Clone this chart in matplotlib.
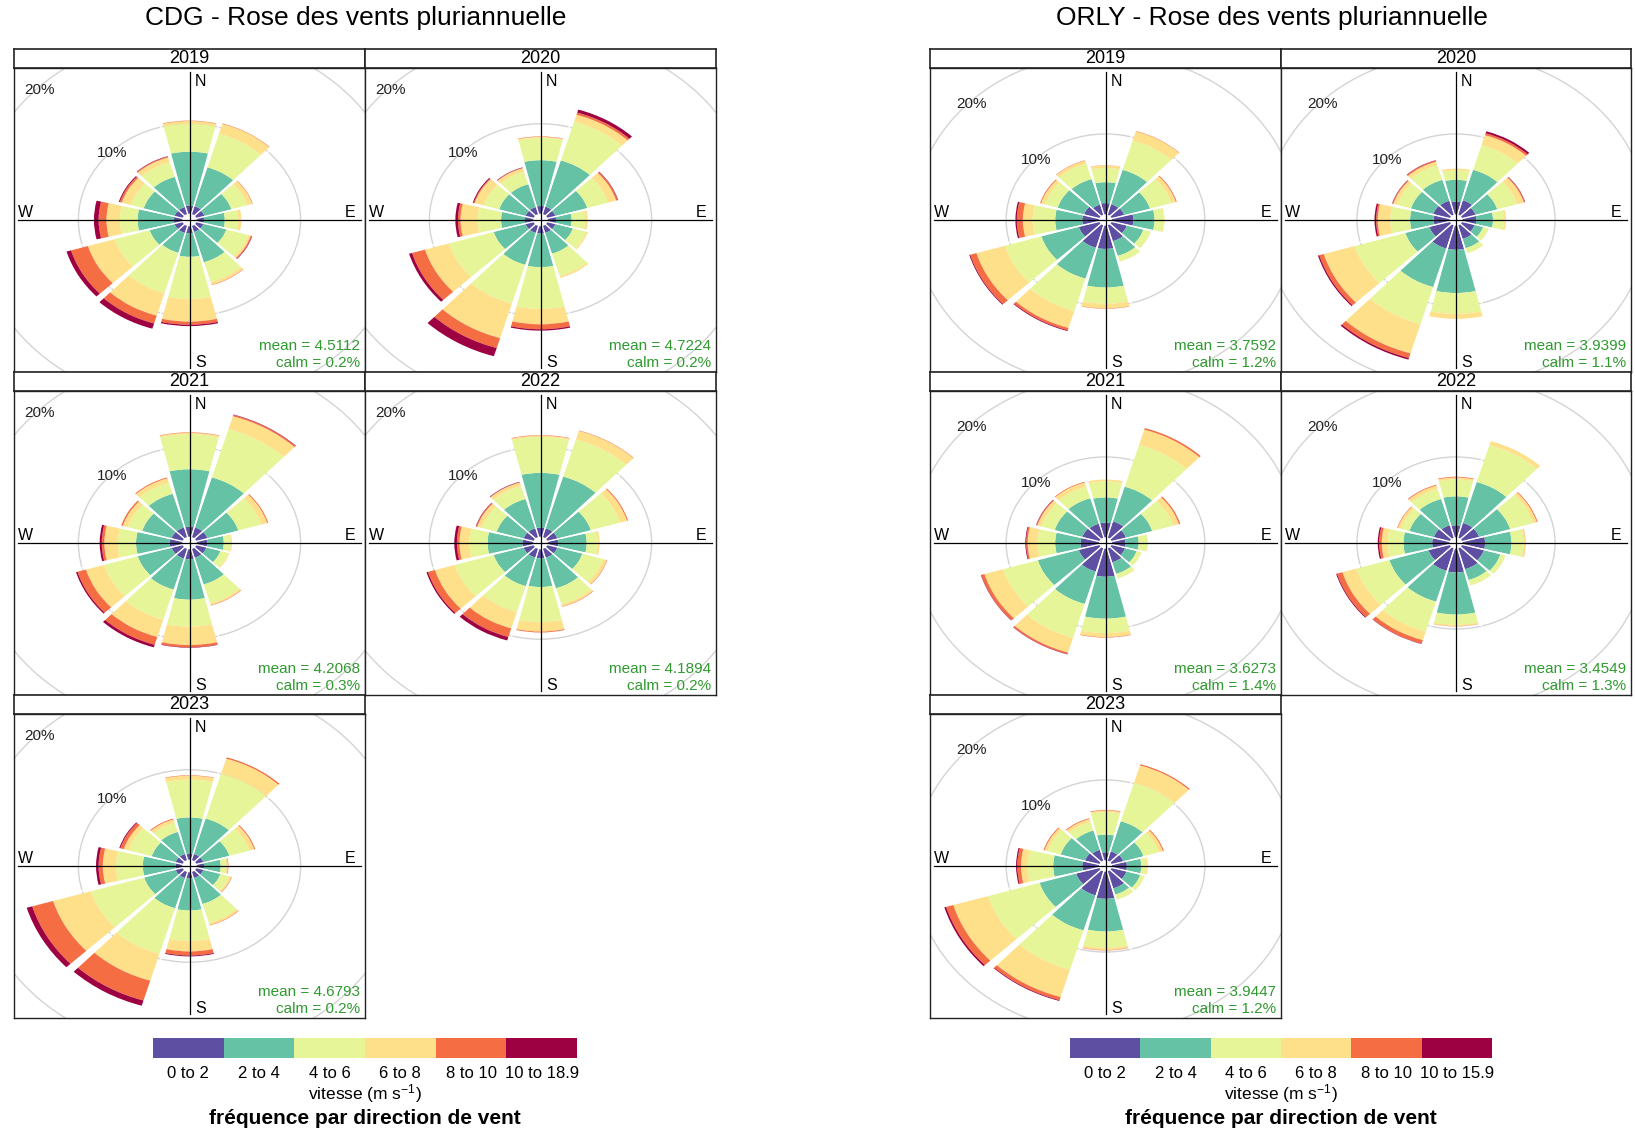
import matplotlib
matplotlib.use("Agg")
import matplotlib.pyplot as plt
import numpy as np
from matplotlib.patches import Wedge, Circle

plt.rcParams['font.family'] = ['Liberation Sans', 'DejaVu Sans']
plt.rcParams['mathtext.fontset'] = 'custom'
plt.rcParams['mathtext.rm'] = 'Liberation Sans'
plt.rcParams['mathtext.it'] = 'Liberation Sans:italic'

# wind directions (deg from north), speed bins and colours
directions = np.arange(0, 360, 30)
speed_colors = ['#5E4FA2', '#66C2A5', '#E6F598', '#FEE08B', '#F46D43', '#9E0142']
cdg_bins = ['0 to 2', '2 to 4', '4 to 6', '6 to 8', '8 to 10', '10 to 18.9']
orly_bins = ['0 to 2', '2 to 4', '4 to 6', '6 to 8', '8 to 10', '10 to 15.9']
years = [2019, 2020, 2021, 2022, 2023]

# cumulative frequency (%) per direction N, 30, 60 ... 330, stacked over the 6 speed bins
cdg_2019 = [[0.9, 6.9, 10.0, 10.3, 10.35, 10.35], [0.9, 5.4, 9.3, 10.45, 10.5, 10.5],
            [0.8, 3.5, 5.1, 5.6, 5.65, 5.65], [0.7, 2.7, 4.0, 4.3, 4.3, 4.3],
            [0.7, 3.0, 5.2, 5.45, 5.55, 5.6], [0.7, 4.2, 6.5, 6.8, 6.85, 6.85],
            [0.8, 3.4, 8.1, 10.6, 10.95, 11.1], [0.8, 3.1, 7.8, 10.4, 11.3, 11.9],
            [0.8, 3.3, 6.8, 9.5, 11.2, 11.65], [0.8, 4.3, 6.0, 7.3, 8.05, 8.5],
            [0.8, 3.9, 5.2, 6.1, 6.3, 6.4], [0.8, 4.3, 6.0, 6.55, 6.65, 6.7]]
cdg_2020 = [[0.85, 5.95, 8.45, 8.55, 8.6, 8.6], [0.85, 6.2, 10.7, 11.5, 11.75, 12.1],
            [0.8, 4.0, 6.1, 6.9, 7.05, 7.1], [0.8, 2.3, 3.6, 3.85, 3.85, 3.85],
            [0.8, 2.55, 3.9, 4.05, 4.05, 4.05], [0.8, 3.2, 5.8, 6.0, 6.0, 6.0],
            [0.8, 4.55, 9.2, 10.9, 11.45, 11.6], [0.8, 4.5, 9.0, 13.0, 14.15, 15.1],
            [0.8, 4.0, 8.5, 10.9, 12.2, 12.5], [0.8, 3.1, 5.35, 7.0, 7.25, 7.5],
            [0.8, 3.45, 5.0, 5.9, 6.0, 6.1], [0.8, 3.45, 4.9, 5.3, 5.35, 5.4]]
cdg_2021 = [[1.1, 7.5, 11.4, 11.55, 11.6, 11.6], [1.1, 6.9, 12.5, 14.0, 14.15, 14.2],
            [1.1, 4.2, 6.5, 7.1, 7.2, 7.2], [1.0, 2.6, 3.3, 3.4, 3.4, 3.4],
            [1.0, 2.4, 3.2, 3.3, 3.3, 3.3], [1.0, 4.1, 6.3, 6.5, 6.55, 6.55],
            [1.1, 5.6, 8.6, 10.65, 10.9, 10.95], [1.1, 4.7, 8.2, 10.2, 11.1, 11.4],
            [1.1, 4.5, 7.9, 9.7, 10.55, 10.7], [1.2, 4.45, 6.2, 7.5, 7.75, 7.95],
            [1.1, 4.05, 5.5, 6.0, 6.15, 6.15], [1.1, 5.0, 6.3, 6.8, 6.9, 6.9]]
cdg_2022 = [[1.0, 7.1, 11.1, 11.25, 11.3, 11.3], [1.0, 7.0, 11.3, 12.3, 12.35, 12.35],
            [1.0, 4.35, 7.3, 8.0, 8.1, 8.1], [1.0, 3.75, 4.8, 5.0, 5.0, 5.0],
            [1.0, 3.5, 5.6, 5.95, 6.0, 6.0], [1.0, 4.55, 6.4, 6.65, 6.7, 6.7],
            [1.0, 4.2, 8.1, 9.15, 9.25, 9.25], [1.0, 4.3, 7.3, 9.2, 10.2, 10.6],
            [1.0, 4.0, 7.9, 9.9, 10.6, 10.75], [1.05, 4.4, 6.15, 7.1, 7.35, 7.6],
            [1.0, 3.7, 5.2, 5.65, 5.75, 5.8], [1.0, 4.4, 5.9, 6.3, 6.35, 6.4]]
cdg_2023 = [[0.7, 4.7, 8.9, 9.35, 9.4, 9.4], [0.7, 4.8, 10.0, 11.75, 11.9, 11.9],
            [0.7, 3.3, 5.3, 5.8, 5.9, 5.9], [0.7, 2.3, 2.85, 3.0, 3.05, 3.05],
            [0.7, 2.4, 3.3, 3.5, 3.55, 3.55], [0.7, 3.7, 5.9, 6.15, 6.2, 6.2],
            [0.7, 4.25, 7.65, 8.8, 9.25, 9.35], [0.7, 4.2, 9.5, 12.6, 14.9, 15.5],
            [0.7, 3.85, 9.2, 13.0, 15.1, 15.65], [0.65, 3.8, 6.37, 7.65, 8.05, 8.3],
            [0.7, 3.1, 5.4, 5.9, 6.25, 6.35], [0.7, 3.25, 4.3, 4.7, 4.8, 4.8]]

orly_2019 = [[1.4, 4.0, 5.77, 6.1, 6.12, 6.12], [1.35, 5.8, 9.6, 10.8, 10.85, 10.85],
             [1.4, 4.3, 6.7, 7.2, 7.3, 7.3], [2.3, 4.58, 5.6, 5.65, 5.65, 5.65],
             [1.7, 3.55, 4.35, 4.4, 4.4, 4.4], [2.05, 3.95, 4.65, 4.7, 4.7, 4.7],
             [2.9, 7.7, 9.72, 10.3, 10.35, 10.35], [2.9, 6.9, 11.1, 13.3, 13.6, 13.7],
             [2.3, 6.5, 10.6, 13.8, 14.5, 14.6], [1.8, 4.72, 7.15, 8.2, 8.85, 9.0],
             [1.7, 4.67, 6.1, 6.55, 6.65, 6.65], [1.3, 4.6, 6.6, 7.0, 7.05, 7.05]]
orly_2020 = [[1.57, 4.3, 5.45, 5.7, 5.7, 5.7], [1.85, 5.8, 9.0, 10.3, 10.55, 10.8],
             [1.5, 3.95, 6.2, 6.95, 7.05, 7.1], [1.5, 3.3, 4.5, 4.7, 4.7, 4.7],
             [1.4, 2.35, 2.95, 3.0, 3.0, 3.0], [1.75, 2.95, 3.55, 3.6, 3.6, 3.6],
             [3.0, 8.38, 10.98, 11.6, 11.6, 11.6], [3.0, 8.0, 12.8, 16.6, 17.2, 17.4],
             [2.3, 5.0, 10.7, 14.2, 14.7, 14.85], [1.7, 4.26, 6.4, 7.75, 7.93, 8.1],
             [1.86, 4.37, 5.9, 6.35, 6.45, 6.5], [1.8, 4.5, 6.4, 6.85, 7.0, 7.05]]
orly_2021 = [[1.82, 4.97, 6.95, 7.2, 7.2, 7.2], [2.1, 6.6, 12.0, 14.0, 14.2, 14.2],
             [1.6, 4.55, 6.9, 7.55, 7.7, 7.7], [1.44, 2.87, 3.8, 3.86, 3.86, 3.86],
             [1.5, 2.8, 3.3, 3.35, 3.35, 3.35], [1.8, 3.3, 3.85, 3.9, 3.9, 3.9],
             [3.5, 8.71, 10.5, 11.0, 11.06, 11.06], [3.0, 7.2, 11.6, 13.5, 13.7, 13.75],
             [2.3, 6.9, 10.8, 12.9, 13.25, 13.3], [1.97, 4.72, 6.6, 7.68, 7.85, 7.93],
             [1.9, 5.0, 6.5, 6.95, 7.05, 7.1], [1.8, 5.1, 6.6, 7.15, 7.24, 7.24]]
orly_2022 = [[1.5, 5.1, 7.2, 7.45, 7.54, 7.54], [1.9, 7.2, 12.0, 12.5, 12.5, 12.5],
             [1.9, 5.4, 8.0, 8.4, 8.5, 8.5], [2.44, 5.29, 6.6, 6.8, 6.82, 6.82],
             [2.44, 4.3, 4.85, 4.87, 4.87, 4.87], [2.7, 4.1, 4.75, 4.8, 4.8, 4.8],
             [2.96, 8.2, 9.47, 9.65, 9.68, 9.68], [2.9, 6.9, 10.8, 11.9, 12.35, 12.4],
             [2.4, 6.8, 10.5, 12.1, 12.7, 12.8], [1.87, 4.97, 6.68, 7.32, 7.6, 7.75],
             [1.8, 4.55, 5.5, 5.85, 5.92, 5.92], [1.6, 5.0, 6.3, 6.75, 6.85, 6.85]]
orly_2023 = [[1.0, 3.2, 6.0, 6.2, 6.27, 6.27], [1.2, 5.1, 10.1, 12.35, 12.5, 12.5],
             [1.3, 3.57, 5.3, 5.75, 5.86, 5.86], [1.6, 3.15, 3.7, 3.86, 3.86, 3.86],
             [1.66, 3.2, 3.65, 3.7, 3.7, 3.7], [2.2, 3.0, 3.6, 3.65, 3.65, 3.65],
             [3.38, 7.45, 9.47, 9.75, 9.8, 9.8], [3.1, 7.65, 12.75, 16.3, 16.7, 16.8],
             [2.6, 6.7, 12.5, 16.4, 17.2, 17.4], [1.8, 4.93, 7.68, 8.4, 8.8, 8.93],
             [1.6, 4.33, 5.8, 6.15, 6.26, 6.26], [1.4, 3.9, 5.0, 5.4, 5.5, 5.5]]

cdg_mean = [4.5112, 4.7224, 4.2068, 4.1894, 4.6793]
cdg_calm = [0.2, 0.2, 0.3, 0.2, 0.2]
orly_mean = [3.7592, 3.9399, 3.6273, 3.4549, 3.9447]
orly_calm = [1.2, 1.1, 1.4, 1.3, 1.2]

OFFSET = 0.7       # radius of the central hole, in %
HALF_WIDTH = 13.5  # half angular width of a paddle, deg
GREEN = '#2f9a2f'

W, H = 1635, 1136
fig = plt.figure(figsize=(W / 100, H / 100), dpi=100)


def box(x0, y0, x1, y1):
    return [x0 / W, 1 - y1 / H, (x1 - x0) / W, (y1 - y0) / H]


def draw_rose(ax, cum, lim, mean, calm):
    totals = [row[-1] for row in cum]
    for v in (10, 20):
        ax.add_patch(Circle((0, 0), v + OFFSET, fill=False, ec='#d4d4d4', lw=1.0, zorder=1))
        t = np.deg2rad(135)
        r = (v + OFFSET) * 0.985
        ax.text(r * np.cos(t), r * np.sin(t), f'{v}%', ha='center', va='center',
                fontsize=11, color='#222222', zorder=6)

    for d, row in zip(directions, cum):
        theta = 90 - d
        inner = 0.0
        for k, top in enumerate(row):
            if top > inner:
                ax.add_patch(Wedge((0, 0), OFFSET + top, theta - HALF_WIDTH, theta + HALF_WIDTH,
                                   width=top - inner, fc=speed_colors[k], ec='none', zorder=2))
            inner = top

    # thin white separators between paddles
    for i, d in enumerate(directions):
        a = np.deg2rad(90 - d - 15)
        reach = OFFSET + max(totals[i], totals[(i + 1) % 12]) + 0.3
        ax.plot([0, reach * np.cos(a)], [0, reach * np.sin(a)], color='white', lw=1.0, zorder=3)

    ax.plot([0, 0], [-lim * 0.975, lim * 0.975], color='black', lw=0.9, zorder=4)
    ax.plot([-lim * 0.975, lim * 0.975], [0, 0], color='black', lw=0.9, zorder=4)

    ax.text(0.531, 0.957, 'N', transform=ax.transAxes, ha='center', va='center', fontsize=11.5)
    ax.text(0.531, 0.032, 'S', transform=ax.transAxes, ha='center', va='center', fontsize=11.5)
    ax.text(0.957, 0.525, 'E', transform=ax.transAxes, ha='center', va='center', fontsize=11.5)
    ax.text(0.033, 0.525, 'W', transform=ax.transAxes, ha='center', va='center', fontsize=11.5)
    ax.text(0.985, 0.085, f'mean = {mean:.4f}', transform=ax.transAxes, ha='right',
            va='center', fontsize=11, color=GREEN)
    ax.text(0.985, 0.028, f'calm = {calm:.1f}%', transform=ax.transAxes, ha='right',
            va='center', fontsize=11, color=GREEN)

    ax.set_xlim(-lim, lim)
    ax.set_ylim(-lim, lim)
    ax.set_aspect('auto')
    ax.set_xticks([])
    ax.set_yticks([])
    for s in ax.spines.values():
        s.set_linewidth(1.0)
        s.set_color('#222222')


def draw_site(title, title_x, cols, roses, means, calms, lim, bins, key_x):
    fig.text(title_x / W, 1 - 18 / H, title, ha='center', va='center', fontsize=19)
    strip_top = [49, 372, 695]
    for idx, year in enumerate(years):
        r, c = divmod(idx, 2)
        x0, x1 = cols[c], cols[c + 1]
        st = strip_top[r]
        sax = fig.add_axes(box(x0, st, x1, st + 19))
        sax.set_xticks([])
        sax.set_yticks([])
        sax.text(0.5, 0.5, str(year), ha='center', va='center', fontsize=13,
                 transform=sax.transAxes)
        for s in sax.spines.values():
            s.set_linewidth(1.2)
            s.set_color('#222222')
        ax = fig.add_axes(box(x0, st + 19, x1, st + 323))
        draw_rose(ax, roses[idx], lim, means[idx], calms[idx])

    # speed key
    kx0, kx1 = key_x
    cax = fig.add_axes(box(kx0, 1038, kx1, 1058))
    cax.bar(np.arange(6), np.ones(6), width=1.0, align='edge', color=speed_colors)
    cax.set_xlim(0, 6)
    cax.set_ylim(0, 1)
    cax.set_yticks([])
    cax.set_xticks(np.arange(6) + 0.5, bins, fontsize=12)
    cax.tick_params(length=0, pad=6)
    for s in cax.spines.values():
        s.set_visible(False)
    xc = (kx0 + kx1) / 2 / W
    fig.text(xc, 1 - 1094 / H, 'vitesse (m s$^{-1}$)', ha='center', va='center', fontsize=12.5)
    fig.text(xc, 1 - 1118 / H, 'fréquence par direction de vent', ha='center', va='center',
             fontsize=15, fontweight='bold')


draw_site('CDG - Rose des vents pluriannuelle', 356, [14, 365, 716],
          [cdg_2019, cdg_2020, cdg_2021, cdg_2022, cdg_2023],
          cdg_mean, cdg_calm, 16.9, cdg_bins, (153, 577))
draw_site('ORLY - Rose des vents pluriannuelle', 1272, [930, 1281, 1631],
          [orly_2019, orly_2020, orly_2021, orly_2022, orly_2023],
          orly_mean, orly_calm, 18.9, orly_bins, (1070, 1492))

fig.savefig('out.png', dpi=100)
